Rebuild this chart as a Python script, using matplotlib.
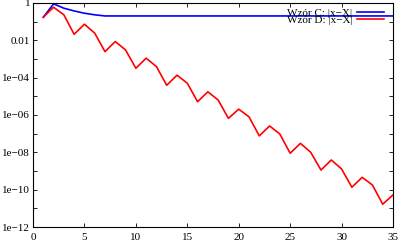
import numpy as np
import matplotlib
matplotlib.use('Agg')
import matplotlib.pyplot as plt

plt.rcParams['font.family'] = ['Liberation Serif', 'DejaVu Serif']

# iteration numbers
n = list(range(1, 36))

# Wzor C: |x-X| (blue)
err_c = [0.17, 0.89, 0.52, 0.37, 0.28, 0.23, 0.2, 0.2, 0.2, 0.2,
         0.2, 0.2, 0.2, 0.2, 0.2, 0.2, 0.2, 0.2, 0.2, 0.2,
         0.2, 0.2, 0.2, 0.2, 0.2, 0.2, 0.2, 0.2, 0.2, 0.2,
         0.2, 0.2, 0.2, 0.2, 0.2]

# Wzor D: |x-X| (red), log10 values
log_d = [-0.77, -0.23, -0.64, -1.68, -1.14, -1.62, -2.61, -2.07, -2.52, -3.5,
         -2.96, -3.41, -4.41, -3.87, -4.3, -5.29, -4.76, -5.2, -6.18, -5.69,
         -6.1, -7.12, -6.59, -7.02, -8.05, -7.52, -8.0, -8.95, -8.41, -8.89,
         -9.87, -9.34, -9.75, -10.78, -10.28]
err_d = [10 ** v for v in log_d]

ytick_vals = [1, 1e-2, 1e-4, 1e-6, 1e-8, 1e-10, 1e-12]
ytick_labels = ['1', '0.01', '1e\u221204', '1e\u221206', '1e\u221208', '1e\u221210', '1e\u221212']

fig = plt.figure(figsize=(4, 2.41), dpi=100)
ax = fig.add_axes([0.0825, 0.058, 0.9, 0.93])

ax.plot(n, err_c, color='#0000ff', lw=1.2, label='Wzór C: |x\u2212X|')
ax.plot(n, err_d, color='#ff0000', lw=1.2, label='Wzór D: |x\u2212X|')

ax.set_yscale('log')
ax.set_xlim(0, 35)
ax.set_ylim(1e-12, 1)
ax.set_xticks(range(0, 36, 5))
ax.set_yticks([10.0 ** k for k in range(-12, 1)], minor=True)
ax.set_yticks(ytick_vals)
ax.set_yticklabels(ytick_labels)
ax.yaxis.set_minor_formatter(matplotlib.ticker.NullFormatter())

ax.tick_params(which='both', direction='in', top=True, right=True,
               labelsize=8, length=3, width=0.6, pad=2)
ax.tick_params(axis='x', pad=4)
for s in ax.spines.values():
    s.set_linewidth(0.8)

ax.legend(loc='upper right', bbox_to_anchor=(384 / 400, 1 - 8 / 241),
          bbox_transform=fig.transFigure, frameon=False, fontsize=8,
          handlelength=2.4, handletextpad=0.45, labelspacing=-0.2,
          borderaxespad=0, borderpad=0, markerfirst=False)

fig.savefig('out.png', dpi=100)
